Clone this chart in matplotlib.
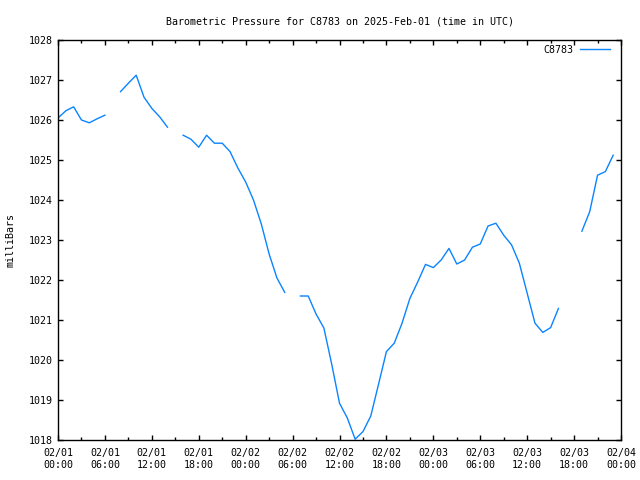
import matplotlib
matplotlib.use("Agg")

import matplotlib.pyplot as plt
import matplotlib.dates as mdates
import numpy as np
import pandas as pd

# hourly readings starting 2025-02-01 00:00 UTC (nan = missing)
hours = list(range(72))
pressure = [
    1026.05, 1026.23, 1026.33, 1026.00, 1025.93, 1026.03, 1026.12, np.nan,
    1026.71, 1026.92, 1027.12, 1026.57, 1026.29, 1026.08, 1025.82, np.nan,
    1025.62, 1025.52, 1025.32, 1025.62, 1025.42, 1025.42, 1025.21, 1024.80,
    1024.45, 1024.00, 1023.40, 1022.65, 1022.05, 1021.69, np.nan, 1021.60,
    1021.60, 1021.15, 1020.80, 1019.90, 1018.92, 1018.55, 1018.02, 1018.21,
    1018.60, 1019.40, 1020.21, 1020.42, 1020.92, 1021.54, 1021.95, 1022.39,
    1022.31, 1022.50, 1022.79, 1022.40, 1022.50, 1022.82, 1022.90, 1023.35,
    1023.42, 1023.12, 1022.88, 1022.42, 1021.67, 1020.92, 1020.69, 1020.81,
    1021.29, np.nan, np.nan, 1023.22, 1023.71, 1024.62, 1024.71, 1025.12,
]
station = "C8783"

start = pd.Timestamp("2025-02-01 00:00")
times = [start + pd.Timedelta(hours=h) for h in hours]

plt.rcParams["font.family"] = "DejaVu Sans Mono"
plt.rcParams["font.size"] = 7.2

fig = plt.figure(figsize=(6.4, 4.8), dpi=100)
ax = fig.add_axes([58 / 640, 40 / 480, 563 / 640, 400 / 480])

ax.plot(times, pressure, color="#0a84ff", linewidth=1.0, label=station)

ax.set_xlim(start, start + pd.Timedelta(hours=72))
ax.set_ylim(1018, 1028)
ax.set_yticks(np.arange(1018, 1029, 1))
ax.xaxis.set_major_locator(mdates.HourLocator(byhour=[0, 6, 12, 18]))
ax.xaxis.set_minor_locator(mdates.HourLocator(byhour=[3, 9, 15, 21]))
ax.xaxis.set_major_formatter(mdates.DateFormatter("%m/%d\n%H:%M"))

ax.tick_params(which="both", direction="in", top=True, right=True, color="black")
ax.tick_params(which="major", length=3.5, width=1.0)
ax.tick_params(axis="x", which="major", pad=6)
ax.tick_params(which="minor", length=2.0, width=1.0)
for s in ax.spines.values():
    s.set_linewidth(1.0)

ax.set_ylabel("milliBars", labelpad=10)
ax.set_title("Barometric Pressure for C8783 on 2025-Feb-01 (time in UTC)",
             fontsize=7.2, pad=11)

leg = ax.legend(loc="upper right", bbox_to_anchor=(0.989, 1.0), frameon=False,
                markerfirst=False, handlelength=3.0, borderaxespad=0.1,
                handletextpad=0.6)

fig.savefig("out.png", dpi=100)
plt.close(fig)
